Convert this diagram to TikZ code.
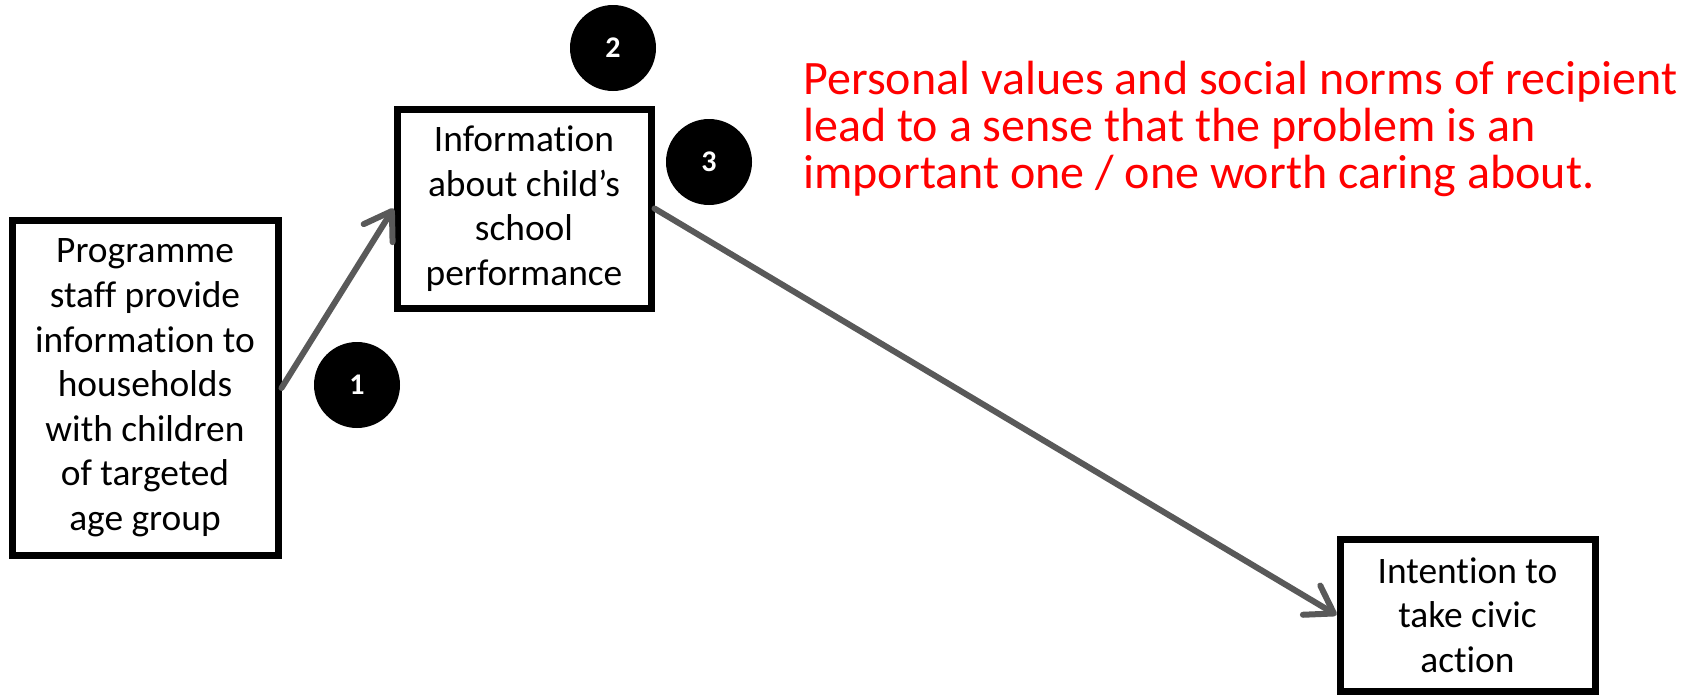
\documentclass[tikz,border=0pt]{standalone}
\usepackage{fontspec}
\setmainfont{Carlito}[Ligatures=NoCommon]
\usepackage{tikz}
\usetikzlibrary{arrows.meta,positioning}

\definecolor{linkgray}{HTML}{595959}
\definecolor{notered}{HTML}{FF0000}

\begin{document}
\begin{tikzpicture}[x=0.5pt,y=-0.5pt]
\tikzstyle{box}=[draw,line width=3.5pt,align=center,inner sep=0pt,font=\fontsize{18.7}{22.3}\selectfont]
\tikzstyle{badge}=[circle,fill=black,minimum size=43pt,inner sep=0pt,text=white,font=\fontsize{15}{17}\selectfont\bfseries]
\tikzstyle{link}=[draw=linkgray,line width=3pt,line cap=round,-{Straight Barb[length=13pt,width=17pt,round]}]

\useasboundingbox (0,0) rectangle (1695,696);

\node[box,minimum width=133pt,minimum height=167.5pt] (staff) at (145,388)
  {Programme\\staff provide\\information to\\households\\with children\\of targeted\\age group};
\node[box,minimum width=127pt,minimum height=99.5pt] (info) at (524,208.5)
  {Information\\about child’s\\school\\performance};
\node[box,minimum width=127.5pt,minimum height=76pt] (civic) at (1467.5,615)
  {Intention to\\take civic\\action};

\node[badge] (b1) at (357,385) {1};
\node[badge] (b2) at (613,48) {2};
\node[badge] (b3) at (709,162) {3};

\node[anchor=west,align=left,inner sep=0pt,text=notered,font=\fontsize{24}{23.5}\selectfont] (norms) at (803,129)
  {Personal values and social norms of recipient\\lead to a sense that the problem is an\\important one / one worth caring about.};

\draw[link] (staff.east) -- (info.west);
\draw[link] (info.east) -- (civic.west);
\end{tikzpicture}
\end{document}
